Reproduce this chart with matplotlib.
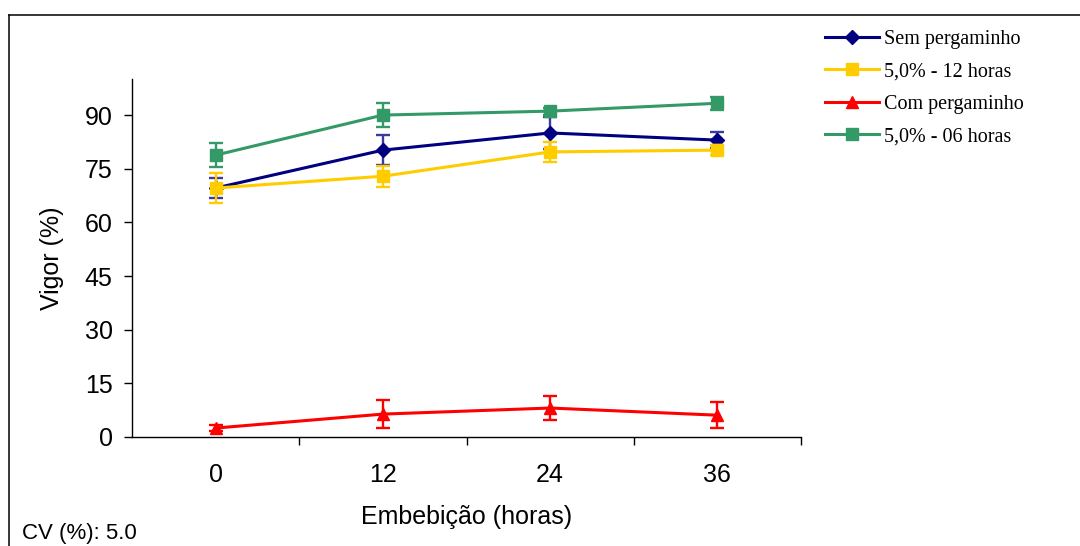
import matplotlib.pyplot as plt
from matplotlib.lines import Line2D

# embebição (horas)
horas = ['0', '12', '24', '36']

sem_perg = [69.6, 80.2, 85.0, 83.0]
sem_perg_err = [2.9, 4.2, 4.5, 2.3]

cinco_12h = [69.6, 72.9, 79.7, 80.2]
cinco_12h_err = [4.2, 3.0, 2.9, 1.5]

com_perg = [2.5, 6.4, 8.1, 6.1]
com_perg_err = [0.9, 3.9, 3.3, 3.7]

cinco_06h = [78.8, 90.0, 91.1, 93.3]
cinco_06h_err = [3.4, 3.3, 1.0, 1.8]

fig = plt.figure(figsize=(10.8, 5.46), dpi=100)
ax = fig.add_axes([132/1080, 1 - 437/546, (801 - 132)/1080, (437 - 79.3)/546])

x = list(range(len(horas)))

series = [
    ('Sem pergaminho', sem_perg, sem_perg_err, '#000080', '#3b3b9e', 'D', 7.6),
    ('5,0% - 12 horas', cinco_12h, cinco_12h_err, '#FFCC00', '#FFCC00', 's', 8.5),
    ('Com pergaminho', com_perg, com_perg_err, '#FF0000', '#FF0000', '^', 8.5),
    ('5,0% - 06 horas', cinco_06h, cinco_06h_err, '#339966', '#339966', 's', 8.0),
]

handles = []
for i, (lab, vals, err, col, ecol, mk, ms) in enumerate(series):
    ax.errorbar(x, vals, yerr=err, fmt='none', ecolor=ecol, elinewidth=1.7,
                capsize=4.8, capthick=1.7, zorder=2 + i)
    ax.plot(x, vals, color=col, lw=2.2, marker=mk, ms=ms, mec=col, mfc=col,
            zorder=2.5 + i)
    handles.append(Line2D([], [], color=col, lw=2.2, marker=mk, ms=ms,
                          mec=col, mfc=col))

ax.set_xlim(-0.5, 3.5)
ax.set_ylim(0, 100)
ax.set_yticks([0, 15, 30, 45, 60, 75, 90])
ax.set_xticks(x)
ax.set_xticklabels(horas)
ax.set_xticks([0.5, 1.5, 2.5, 3.5], minor=True)

for s in ['top', 'right']:
    ax.spines[s].set_visible(False)
for s in ['left', 'bottom']:
    ax.spines[s].set_linewidth(1.0)

ax.tick_params(axis='x', which='major', length=0, pad=19, labelsize=18)
ax.tick_params(axis='x', which='minor', length=6, width=1.0, direction='out')
ax.tick_params(axis='y', length=6, width=1.0, direction='out', pad=8,
               labelsize=18)
for t in ax.get_xticklabels() + ax.get_yticklabels():
    t.set_family('Liberation Sans')

ax.set_xlabel('Embebição (horas)', family='Liberation Sans', fontsize=18,
              labelpad=13)
ax.set_ylabel('Vigor (%)', family='Liberation Sans', fontsize=18, labelpad=15)

fig.legend(handles, [s[0] for s in series], loc='upper left',
           bbox_to_anchor=(825/1080, 1 - 30/546), frameon=False,
           prop={'family': 'Liberation Serif', 'size': 14.5},
           handlelength=2.7, handletextpad=0.25, labelspacing=0.66,
           borderpad=0, borderaxespad=0)

fig.text(22/1080, 1 - 539/546, 'CV (%): 5.0',
         family=['Liberation Sans Narrow', 'Liberation Sans'], fontsize=16,
         va='baseline', ha='left')

# moldura externa
fig.add_artist(Line2D([9/1080, 1], [1 - 15/546, 1 - 15/546],
                      transform=fig.transFigure, color='black', lw=1.1))
fig.add_artist(Line2D([9/1080, 9/1080], [0, 1 - 15/546],
                      transform=fig.transFigure, color='black', lw=1.1))

fig.savefig('out.png', dpi=100)
